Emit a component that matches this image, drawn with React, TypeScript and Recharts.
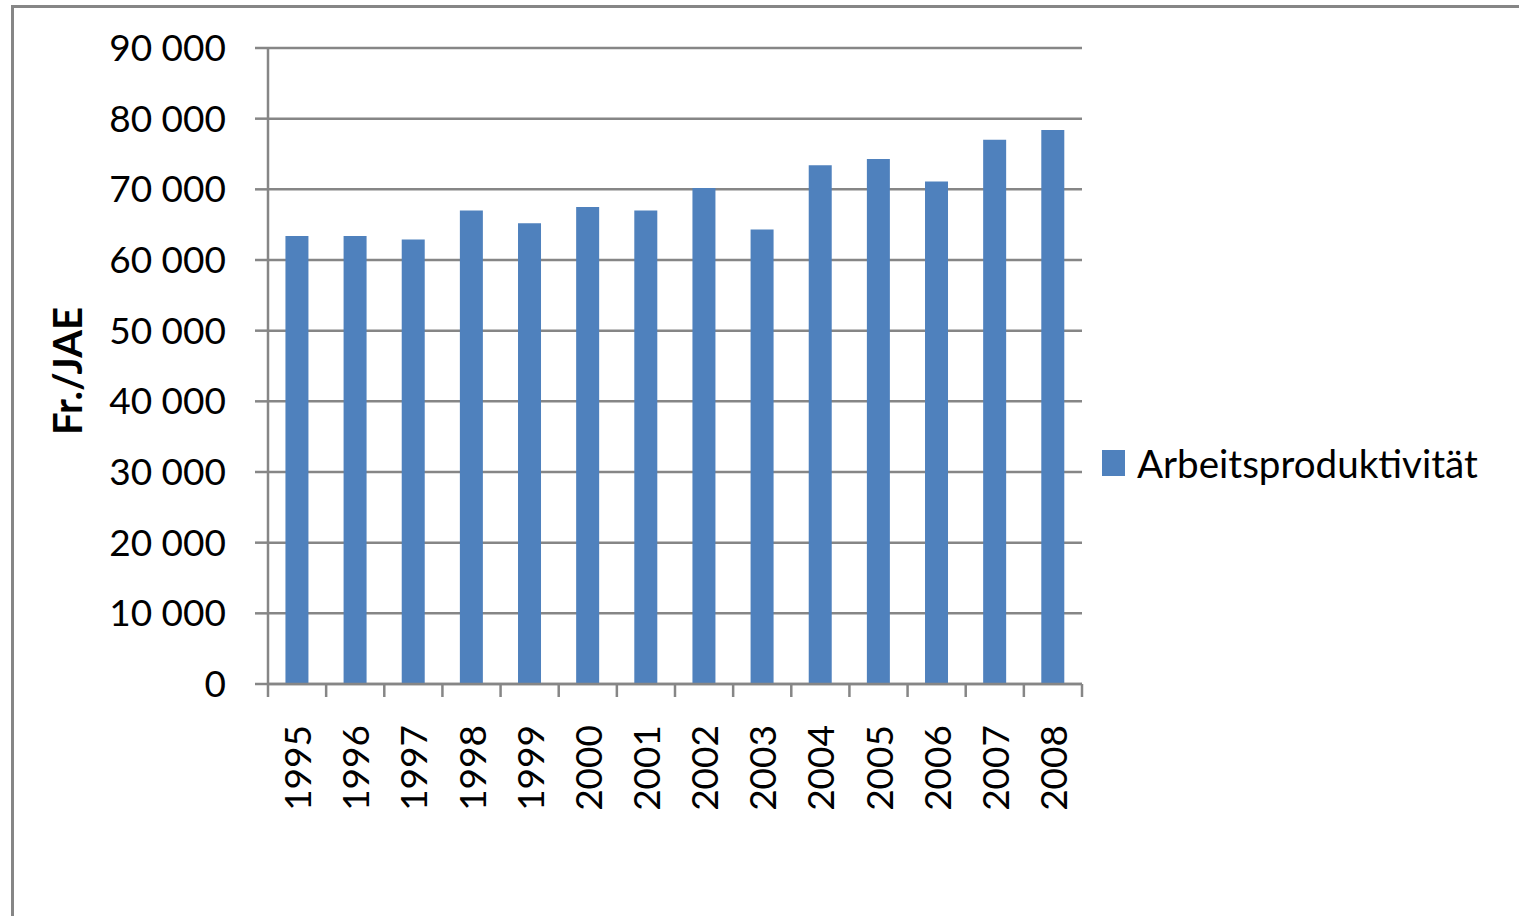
import { Bar, BarChart, CartesianGrid, Legend, XAxis, YAxis } from 'recharts';

const years = ['1995', '1996', '1997', '1998', '1999', '2000', '2001', '2002', '2003', '2004', '2005', '2006', '2007', '2008'];
const productivity = [63400, 63400, 62900, 67000, 65200, 67500, 67000, 70200, 64300, 73400, 74300, 71100, 77000, 78400];
const yTicks = [0, 10000, 20000, 30000, 40000, 50000, 60000, 70000, 80000, 90000];

const seriesName = 'Arbeitsproduktivität';
const axisTitle = 'Fr./JAE';

const data = years.map((year, i) => ({ year, value: productivity[i] }));

const W = 1519;
const H = 916;
const xAxisHeight = 232;
const yAxisWidth = 268;
const margin = { top: 48, right: 437, bottom: 0, left: 0 };
const plotW = W - margin.right - yAxisWidth;
const axisY = H - xAxisHeight;
const step = plotW / years.length;
const gray = '#868686';
const blue = '#4F81BD';
const font = 'Lato, "Open Sans", sans-serif';

const fmt = (v: number) => String(v).replace(/\B(?=(\d{3})+(?!\d))/g, ' ');

function YearTick(props: any) {
  const { x, payload, index } = props;
  return (
    <g>
      <line x1={x - step / 2} x2={x - step / 2} y1={axisY} y2={axisY + 13} stroke={gray} strokeWidth={2.5} />
      {index === years.length - 1 && (
        <line x1={x + step / 2} x2={x + step / 2} y1={axisY} y2={axisY + 13} stroke={gray} strokeWidth={2.5} />
      )}
      <text
        transform={`translate(${x + 14},${axisY + 41}) rotate(-90)`}
        textAnchor="end"
        fontFamily={font}
        fontSize={37}
        fill="#000"
      >
        {payload.value}
      </text>
    </g>
  );
}

function AxisTitle(props: any) {
  const { viewBox } = props;
  const cy = viewBox.y + viewBox.height / 2 + 5;
  return (
    <text
      transform={`translate(82,${cy}) rotate(-90)`}
      textAnchor="middle"
      fontFamily={font}
      fontWeight="bold"
      fontSize={40}
      fill="#000"
    >
      {axisTitle}
    </text>
  );
}

function LegendBox() {
  return (
    <div style={{ display: 'flex', alignItems: 'center', fontFamily: font, fontSize: 38.6, color: '#000', whiteSpace: 'nowrap' }}>
      <span style={{ display: 'inline-block', width: 23, height: 26, background: blue, marginRight: 12 }} />
      <span>{seriesName}</span>
    </div>
  );
}

export default function App() {
  return (
    <div style={{ position: 'absolute', left: 0, top: 0, width: W, height: H, overflow: 'hidden', background: '#fff' }}>
      <div
        style={{
          position: 'absolute',
          left: 11,
          top: 5,
          width: W + 100,
          height: H + 100,
          border: `3px solid ${gray}`,
          boxSizing: 'border-box',
        }}
      />
      <BarChart width={W} height={H} data={data} margin={margin} barCategoryGap="30%">
        <CartesianGrid horizontal vertical={false} stroke={gray} strokeWidth={2.5} />
        <XAxis
          dataKey="year"
          interval={0}
          axisLine={{ stroke: gray, strokeWidth: 2.5 }}
          tickLine={false}
          tick={<YearTick />}
          height={xAxisHeight}
        />
        <YAxis
          width={yAxisWidth}
          domain={[0, 90000]}
          ticks={yTicks}
          interval={0}
          tickFormatter={fmt}
          axisLine={{ stroke: gray, strokeWidth: 2.5 }}
          tickLine={{ stroke: gray, strokeWidth: 2.5 }}
          tickSize={13}
          tickMargin={29}
          tick={{ fontFamily: font, fontSize: 37, fill: '#000' }}
          label={<AxisTitle />}
        />
        <Legend
          layout="horizontal"
          align="center"
          verticalAlign="middle"
          content={<LegendBox />}
          wrapperStyle={{ left: 1102, top: 440, width: 'auto' }}
        />
        <Bar dataKey="value" name={seriesName} fill={blue} isAnimationActive={false} />
      </BarChart>
    </div>
  );
}
